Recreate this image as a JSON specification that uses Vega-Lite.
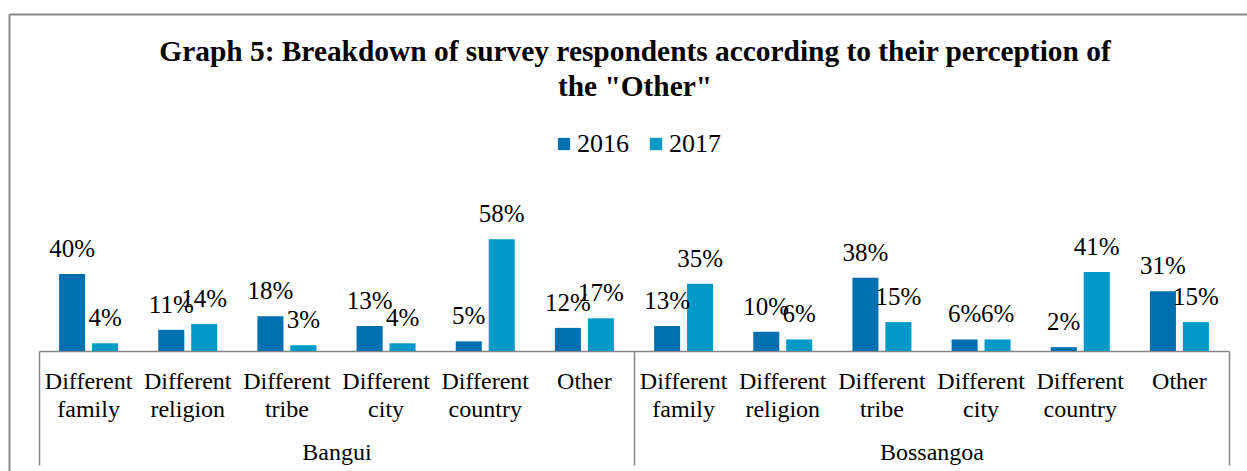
{
  "$schema": "https://vega.github.io/schema/vega-lite/v6.json",
  "width": 1238,
  "height": 457,
  "padding": {"left": 9, "right": 0, "top": 14, "bottom": 0},
  "background": "white",
  "config": {"view": {"stroke": null}, "font": "Liberation Serif"},
  "title": {
    "text": ["Graph 5: Breakdown of survey respondents according to their perception of", "the \"Other\""],
    "font": "Liberation Serif",
    "fontSize": 29.4,
    "fontWeight": "bold",
    "lineHeight": 35,
    "color": "#000000",
    "anchor": "middle",
    "dx": 7,
    "offset": -88
  },
  "data": {
    "values": [
      {"key": "Bangui|Different family", "city": "Bangui", "year": "2016", "value": 0.40},
      {"key": "Bangui|Different family", "city": "Bangui", "year": "2017", "value": 0.04},
      {"key": "Bangui|Different religion", "city": "Bangui", "year": "2016", "value": 0.11},
      {"key": "Bangui|Different religion", "city": "Bangui", "year": "2017", "value": 0.14},
      {"key": "Bangui|Different tribe", "city": "Bangui", "year": "2016", "value": 0.18},
      {"key": "Bangui|Different tribe", "city": "Bangui", "year": "2017", "value": 0.03},
      {"key": "Bangui|Different city", "city": "Bangui", "year": "2016", "value": 0.13},
      {"key": "Bangui|Different city", "city": "Bangui", "year": "2017", "value": 0.04},
      {"key": "Bangui|Different country", "city": "Bangui", "year": "2016", "value": 0.05},
      {"key": "Bangui|Different country", "city": "Bangui", "year": "2017", "value": 0.58},
      {"key": "Bangui|Other", "city": "Bangui", "year": "2016", "value": 0.12},
      {"key": "Bangui|Other", "city": "Bangui", "year": "2017", "value": 0.17},
      {"key": "Bossangoa|Different family", "city": "Bossangoa", "year": "2016", "value": 0.13},
      {"key": "Bossangoa|Different family", "city": "Bossangoa", "year": "2017", "value": 0.35},
      {"key": "Bossangoa|Different religion", "city": "Bossangoa", "year": "2016", "value": 0.10},
      {"key": "Bossangoa|Different religion", "city": "Bossangoa", "year": "2017", "value": 0.06},
      {"key": "Bossangoa|Different tribe", "city": "Bossangoa", "year": "2016", "value": 0.38},
      {"key": "Bossangoa|Different tribe", "city": "Bossangoa", "year": "2017", "value": 0.15},
      {"key": "Bossangoa|Different city", "city": "Bossangoa", "year": "2016", "value": 0.06},
      {"key": "Bossangoa|Different city", "city": "Bossangoa", "year": "2017", "value": 0.06},
      {"key": "Bossangoa|Different country", "city": "Bossangoa", "year": "2016", "value": 0.02},
      {"key": "Bossangoa|Different country", "city": "Bossangoa", "year": "2017", "value": 0.41},
      {"key": "Bossangoa|Other", "city": "Bossangoa", "year": "2016", "value": 0.31},
      {"key": "Bossangoa|Other", "city": "Bossangoa", "year": "2017", "value": 0.15}
    ]
  },
  "layer": [
    {
      "encoding": {
        "x": {
          "field": "key",
          "type": "nominal",
          "sort": null,
          "scale": {"range": [30, 1220], "paddingInner": 0.405, "paddingOuter": 0.2025},
          "axis": {
            "title": null,
            "orient": "bottom",
            "offset": -120,
            "domainColor": "#868686",
            "domainWidth": 1.5,
            "ticks": false,
            "labelExpr": "split(split(datum.value, '|')[1], ' ')",
            "labelAngle": 0,
            "labelPadding": 18,
            "labelBaseline": "top",
            "labelLineHeight": 28,
            "labelFont": "Liberation Serif",
            "labelFontSize": 24,
            "labelColor": "#000000",
            "labelOverlap": false,
            "labelBound": false,
            "labelLimit": 0,
            "grid": false
          }
        },
        "xOffset": {"field": "year", "type": "nominal", "scale": {"paddingInner": 0.21, "paddingOuter": 0}},
        "y": {"field": "value", "type": "quantitative", "scale": {"domain": [0, 0.8], "range": [337, 183]}, "axis": null}
      },
      "layer": [
        {
          "mark": {"type": "bar"},
          "encoding": {
            "color": {
              "field": "year",
              "type": "nominal",
              "scale": {"range": ["#0070B0", "#0099C8"]},
              "legend": {
                "orient": "none",
                "legendX": 542,
                "legendY": 117,
                "direction": "horizontal",
                "title": null,
                "labelFont": "Liberation Serif",
                "labelFontSize": 26,
                "labelColor": "#000000",
                "symbolType": "square",
                "symbolSize": 150,
                "symbolStrokeWidth": 0,
                "labelOffset": 0,
                "columnPadding": 14
              }
            }
          }
        },
        {
          "mark": {"type": "text", "baseline": "alphabetic", "dy": -17, "font": "Liberation Serif", "fontSize": 25, "color": "#000000"},
          "encoding": {"text": {"field": "value", "type": "quantitative", "format": ".0%"}}
        }
      ]
    },
    {
      "data": {"values": [{"city": "Bangui"}, {"city": "Bossangoa"}]},
      "mark": {"type": "point", "opacity": 0, "size": 1},
      "encoding": {
        "x": {
          "field": "city",
          "type": "nominal",
          "sort": null,
          "scale": {"range": [30, 1220], "paddingInner": 0, "paddingOuter": 0},
          "axis": {
            "title": null,
            "orient": "bottom",
            "offset": -120,
            "domain": false,
            "ticks": true,
            "tickBand": "extent",
            "tickSize": 114,
            "tickColor": "#868686",
            "tickWidth": 1.5,
            "labelAngle": 0,
            "labelPadding": -25,
            "labelBaseline": "top",
            "labelFont": "Liberation Serif",
            "labelFontSize": 24,
            "labelColor": "#000000",
            "labelOverlap": false,
            "labelBound": false,
            "grid": false
          }
        }
      }
    },
    {
      "data": {"values": [{"fx": 0.5, "fy": 0.5}]},
      "mark": {"type": "point", "opacity": 0, "size": 1},
      "encoding": {
        "x": {
          "field": "fx",
          "type": "quantitative",
          "scale": {"domain": [0, 1]},
          "axis": {"title": null, "orient": "top", "domain": true, "domainColor": "#878787", "domainWidth": 2, "ticks": false, "labels": false, "grid": false}
        },
        "y": {
          "field": "fy",
          "type": "quantitative",
          "scale": {"domain": [0, 1]},
          "axis": {"title": null, "orient": "left", "domain": true, "domainColor": "#878787", "domainWidth": 2, "ticks": false, "labels": false, "grid": false}
        }
      }
    }
  ],
  "resolve": {"scale": {"x": "independent", "y": "independent"}, "axis": {"x": "independent", "y": "independent"}}
}
